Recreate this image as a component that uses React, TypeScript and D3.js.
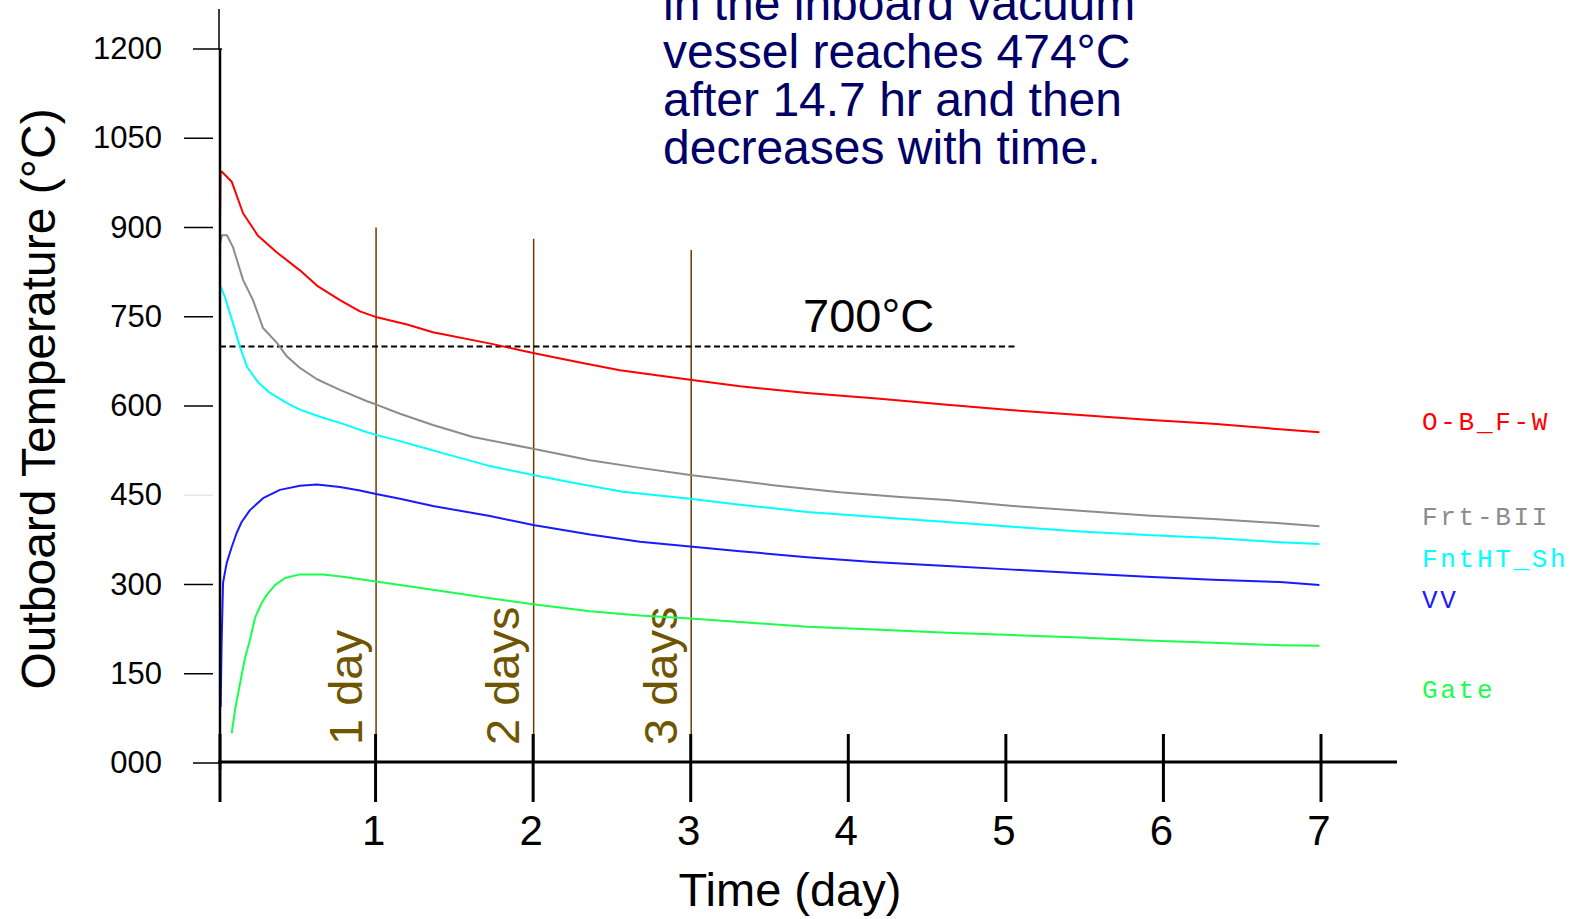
import React from "react";
import * as d3 from "d3";

// ---------- DATA ----------
const Y_TICKS = [1200, 1050, 900, 750, 600, 450, 300, 150, 0];
const Y_TICK_LABELS = ["1200", "1050", "900", "750", "600", "450", "300", "150", "000"];
const X_TICKS = [0, 1, 2, 3, 4, 5, 6, 7];
const X_TICK_LABELS = ["", "1", "2", "3", "4", "5", "6", "7"];

const DAY_MARKS = [1, 2, 3];
const DAY_MARK_LABELS = ["1 day", "2 days", "3 days"];
const DAY_MARK_TOPS = [900, 881, 862]; // temperature where each guide line starts

const THRESHOLD = 700;
const THRESHOLD_LABEL = "700\u00B0C";
const THRESHOLD_END_DAY = 5.06;

const NOTE_LINES = [
  "in the inboard vacuum",
  "vessel reaches 474\u00B0C",
  "after 14.7 hr and then",
  "decreases with time.",
];

const SERIES_NAMES = ["O-B_F-W", "Frt-BII", "FntHT_Sh", "VV", "Gate"];

const OBFW: [number, number][] = [
  [0.013, 915], [0.016, 993], [0.023, 994], [0.087, 977], [0.159, 924], [0.254, 886],
  [0.374, 858], [0.52, 828], [0.635, 801], [0.774, 778], [0.901, 759], [1.009, 749],
  [1.2, 737], [1.364, 724], [1.745, 704], [2.0, 689], [2.297, 673], [2.551, 660],
  [2.996, 644], [3.313, 633], [3.738, 622], [4.201, 612], [4.627, 602], [5.045, 593],
  [5.471, 585], [5.896, 577], [6.315, 570], [6.74, 561], [6.99, 556],
];

const FRT_BII: [number, number][] = [
  [0.013, 834], [0.014, 874], [0.025, 887], [0.057, 887], [0.095, 867], [0.159, 812],
  [0.222, 778], [0.286, 731], [0.374, 706], [0.438, 683], [0.52, 664], [0.628, 645],
  [0.774, 627], [0.946, 608], [1.009, 602], [1.155, 587], [1.364, 568], [1.618, 548],
  [2.0, 528], [2.361, 509], [2.678, 496], [2.996, 484], [3.522, 467], [3.947, 455],
  [4.328, 447], [4.627, 442], [5.045, 432], [5.471, 424], [5.896, 416], [6.315, 410],
  [6.74, 403], [6.99, 398],
];

const FNTHT_SH: [number, number][] = [
  [0.017, 800], [0.044, 783], [0.095, 739], [0.14, 699], [0.184, 666], [0.254, 640],
  [0.33, 622], [0.438, 605], [0.52, 594], [0.647, 582], [0.793, 570], [0.946, 556],
  [1.009, 551], [1.155, 541], [1.345, 527], [1.409, 522], [1.726, 499], [2.0, 484],
  [2.253, 471], [2.57, 456], [2.996, 444], [3.313, 434], [3.738, 422], [4.201, 413],
  [4.627, 405], [5.045, 397], [5.471, 389], [5.896, 383], [6.315, 378], [6.74, 371],
  [6.99, 368],
];

const VV: [number, number][] = [
  [0.017, 94], [0.023, 202], [0.032, 303], [0.055, 336], [0.087, 363], [0.119, 387],
  [0.15, 405], [0.203, 425], [0.286, 445], [0.393, 459], [0.52, 466], [0.628, 468],
  [0.774, 464], [0.901, 458], [1.003, 452], [1.155, 444], [1.364, 432], [1.726, 415],
  [2.0, 400], [2.361, 384], [2.678, 372], [2.996, 364], [3.313, 356], [3.738, 346],
  [4.157, 338], [4.627, 331], [5.045, 325], [5.471, 319], [5.896, 313], [6.315, 308],
  [6.74, 304], [6.99, 299],
];

const GATE: [number, number][] = [
  [0.087, 50], [0.108, 89], [0.14, 134], [0.171, 176], [0.203, 207], [0.235, 244],
  [0.277, 269], [0.311, 283], [0.362, 299], [0.425, 311], [0.52, 317], [0.666, 317],
  [0.793, 313], [1.003, 305], [1.155, 299], [1.364, 291], [1.726, 277], [2.0, 267],
  [2.361, 255], [2.678, 248], [2.996, 243], [3.313, 237], [3.738, 229], [4.201, 224],
  [4.627, 219], [5.045, 215], [5.471, 211], [5.896, 206], [6.315, 202], [6.74, 198],
  [6.99, 197],
];

const SERIES_DATA = [OBFW, FRT_BII, FNTHT_SH, VV, GATE];

// ---------- LAYOUT / STYLE ----------
const W = 1575;
const H = 919;
const SERIES_COLORS = ["#ff0000", "#8c8c8c", "#00ffff", "#1a1aff", "#1aff4d"];
const LEGEND_X = 1422;
const LEGEND_BASELINES = [430, 525, 567, 608, 698];
const SANS = "'Liberation Sans', Arial, Helvetica, sans-serif";
const MONO = "'Courier New', 'Liberation Mono', monospace";

export default function App() {
  const x = d3.scaleLinear().domain([0, 7]).range([218, 1321]);
  const y = d3.scaleLinear().domain([0, 1200]).range([763, 49]);
  const line = d3
    .line<[number, number]>()
    .x((d) => x(d[0]))
    .y((d) => y(d[1]))
    .curve(d3.curveLinear);

  const axisX = 220;
  const axisY = 762;

  return (
    <svg
      width={W}
      height={H}
      viewBox={`0 0 ${W} ${H}`}
      style={{ position: "absolute", left: 0, top: 0, display: "block", background: "#fff" }}
    >
      <rect x={0} y={0} width={W} height={H} fill="#fff" />

      {/* annotation text (first line is cropped by the top edge, as in the source) */}
      <g fill="#000066" fontFamily={SANS} fontSize={48}>
        {NOTE_LINES.map((t, i) => (
          <text key={t} x={663} y={20 + i * 48}>
            {t}
          </text>
        ))}
      </g>

      {/* day guide lines */}
      {DAY_MARKS.map((d, i) => (
        <line
          key={"dl" + d}
          x1={x(d) + 0.5}
          x2={x(d) + 0.5}
          y1={y(DAY_MARK_TOPS[i])}
          y2={axisY}
          stroke="#6b3a00"
          strokeWidth={1.5}
        />
      ))}
      {DAY_MARKS.map((d, i) => (
        <text
          key={"dt" + d}
          transform={`translate(${x(d) - 14},745) rotate(-90)`}
          fill="#6f5500"
          fontFamily={SANS}
          fontSize={47}
        >
          {DAY_MARK_LABELS[i]}
        </text>
      ))}

      {/* threshold line */}
      <line
        x1={axisX}
        x2={x(THRESHOLD_END_DAY)}
        y1={y(THRESHOLD)}
        y2={y(THRESHOLD)}
        stroke="#000"
        strokeWidth={2}
        strokeDasharray="6 3.5"
      />
      <text x={803} y={332} fontFamily={SANS} fontSize={47} fill="#000">
        {THRESHOLD_LABEL}
      </text>

      {/* curves */}
      {SERIES_DATA.map((data, i) => (
        <path
          key={SERIES_NAMES[i]}
          d={line(data) || ""}
          fill="none"
          stroke={SERIES_COLORS[i]}
          strokeWidth={2}
          strokeLinejoin="round"
        />
      ))}

      {/* y axis */}
      <line x1={axisX - 1} x2={axisX - 1} y1={9} y2={49} stroke="#000" strokeWidth={1.5} />
      <line x1={axisX} x2={axisX} y1={49} y2={770} stroke="#000" strokeWidth={2.5} />
      {Y_TICKS.map((v, i) => (
        <g key={"yt" + v}>
          <line
            x1={v === 1200 || v === 0 ? 193 : 184}
            x2={v === 1200 || v === 0 ? 222 : 213}
            y1={y(v)}
            y2={y(v)}
            stroke={v === 450 ? "#e6e6e6" : "#000"}
            strokeWidth={1.5}
          />
          <text
            x={162}
            y={y(v) + 10}
            textAnchor="end"
            fontFamily={SANS}
            fontSize={31}
            fill="#000"
          >
            {Y_TICK_LABELS[i]}
          </text>
        </g>
      ))}
      <text
        transform={`translate(55,399) rotate(-90)`}
        textAnchor="middle"
        fontFamily={SANS}
        fontSize={48}
        fill="#000"
      >
        Outboard Temperature (°C)
      </text>

      {/* x axis */}
      <line x1={axisX - 2} x2={1397} y1={axisY} y2={axisY} stroke="#000" strokeWidth={3} />
      {X_TICKS.map((d, i) => (
        <g key={"xt" + d}>
          <line
            x1={d === 0 ? axisX : x(d)}
            x2={d === 0 ? axisX : x(d)}
            y1={734}
            y2={802}
            stroke="#000"
            strokeWidth={3}
          />
          {X_TICK_LABELS[i] && (
            <text
              x={x(d) - 2}
              y={845}
              textAnchor="middle"
              fontFamily={SANS}
              fontSize={42}
              fill="#000"
            >
              {X_TICK_LABELS[i]}
            </text>
          )}
        </g>
      ))}
      <text x={790} y={906} textAnchor="middle" fontFamily={SANS} fontSize={47} fill="#000">
        Time (day)
      </text>

      {/* legend labels */}
      {SERIES_NAMES.map((n, i) => (
        <text
          key={"lg" + n}
          x={LEGEND_X}
          y={LEGEND_BASELINES[i]}
          fontFamily={MONO}
          fontSize={26}
          letterSpacing={2.7}
          fill={SERIES_COLORS[i]}
        >
          {n}
        </text>
      ))}
    </svg>
  );
}
